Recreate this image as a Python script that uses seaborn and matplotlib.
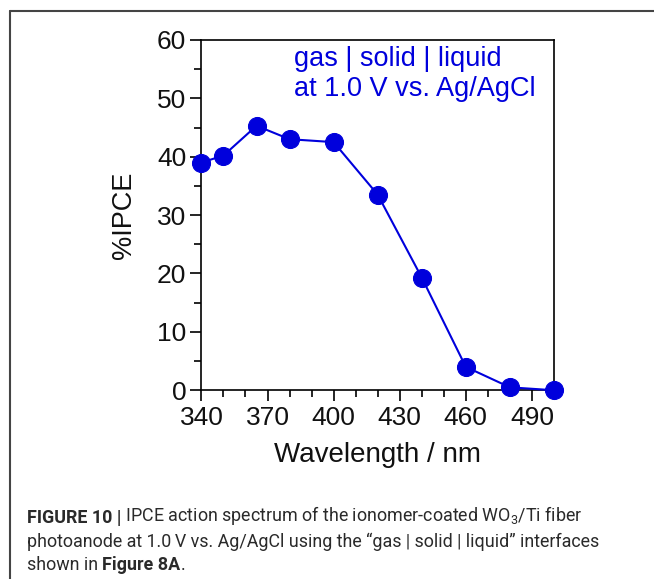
import matplotlib
matplotlib.use("Agg")
import matplotlib.pyplot as plt
import seaborn as sns
import pandas as pd
from matplotlib.lines import Line2D
from matplotlib.ticker import MultipleLocator

# ---- data ----
wavelength = [340, 350, 365, 380, 400, 420, 440, 460, 480, 500]
ipce = [39.0, 40.2, 45.3, 43.0, 42.5, 33.5, 19.3, 4.0, 0.5, 0.0]
x_ticks = [340, 370, 400, 430, 460, 490]
y_ticks = [0, 10, 20, 30, 40, 50, 60]
annotation = ["gas | solid | liquid", "at 1.0 V vs. Ag/AgCl"]

sns.set_theme(style="white")
plt.rcParams['font.family'] = ['Liberation Sans', 'DejaVu Sans']
plt.rcParams['mathtext.fontset'] = 'custom'
plt.rcParams['mathtext.rm'] = 'Roboto'

df = pd.DataFrame({"wl": wavelength, "ipce": ipce})

blue = "#0000DC"
fig = plt.figure(figsize=(6.54, 5.79), dpi=100)
ax = fig.add_axes([0.308, 0.326, 0.539, 0.605])

sns.lineplot(data=df, x="wl", y="ipce", ax=ax, color=blue, lw=1.5,
             marker="o", markersize=13, markeredgecolor=blue,
             markerfacecolor=blue, clip_on=False, zorder=3)

ax.set_xlim(340, 500)
ax.set_ylim(0, 60)
ax.set_xticks(x_ticks)
ax.set_yticks(y_ticks)
ax.xaxis.set_minor_locator(MultipleLocator(10))
ax.yaxis.set_minor_locator(MultipleLocator(5))
ax.tick_params(which="major", direction="out", length=8, width=1.2,
               color="black", labelsize=19, pad=3, bottom=True, left=True,
               labelcolor="#111111")
ax.tick_params(which="minor", direction="out", length=5, width=1.2,
               color="black", bottom=True, left=True)
for s in ax.spines.values():
    s.set_color("black")
    s.set_linewidth(1.2)
ax.set_xlabel("Wavelength / nm", fontsize=20, labelpad=9, color="#111111")
ax.set_ylabel("%IPCE", fontsize=19.5, labelpad=14, color="#111111")

ax.text(0.262, 0.982, annotation[0] + "\n" + annotation[1],
        transform=ax.transAxes, color=blue, fontsize=19.5,
        va="top", ha="left", linespacing=1.2)

# frame lines of the figure panel
ytop = 1 - 11 / 579
fig.add_artist(Line2D([10 / 654, 10 / 654], [0, ytop], color="#444444", lw=1.5))
fig.add_artist(Line2D([10 / 654, 1], [ytop, ytop], color="#444444", lw=1.5))

# caption
cfont = dict(family="Roboto", fontsize=12.9, color="#2a2a2a")
x0 = 27 / 654
t = fig.text(x0, 1 - 523 / 579, "FIGURE 10 |", fontweight="bold", **cfont)
t2 = ax.annotate(" IPCE action spectrum of the ionomer-coated WO$_3$/Ti fiber",
                 xy=(1, 0), xycoords=t, va="bottom", ha="left",
                 fontweight="normal", **cfont)
fig.text(x0, 1 - 547 / 579,
         "photoanode at 1.0\u2009V vs. Ag/AgCl using the \u201cgas | solid | liquid\u201d interfaces",
         fontweight="normal", **cfont)
t3 = fig.text(x0, 1 - 570 / 579, "shown in ", fontweight="normal", **cfont)
t4 = ax.annotate("Figure 8A", xy=(1, 0), xycoords=t3, va="bottom", ha="left",
                 fontweight="bold", **cfont)
ax.annotate(".", xy=(1, 0), xycoords=t4, va="bottom", ha="left",
            fontweight="normal", **cfont)

fig.savefig("out.png", dpi=100)
